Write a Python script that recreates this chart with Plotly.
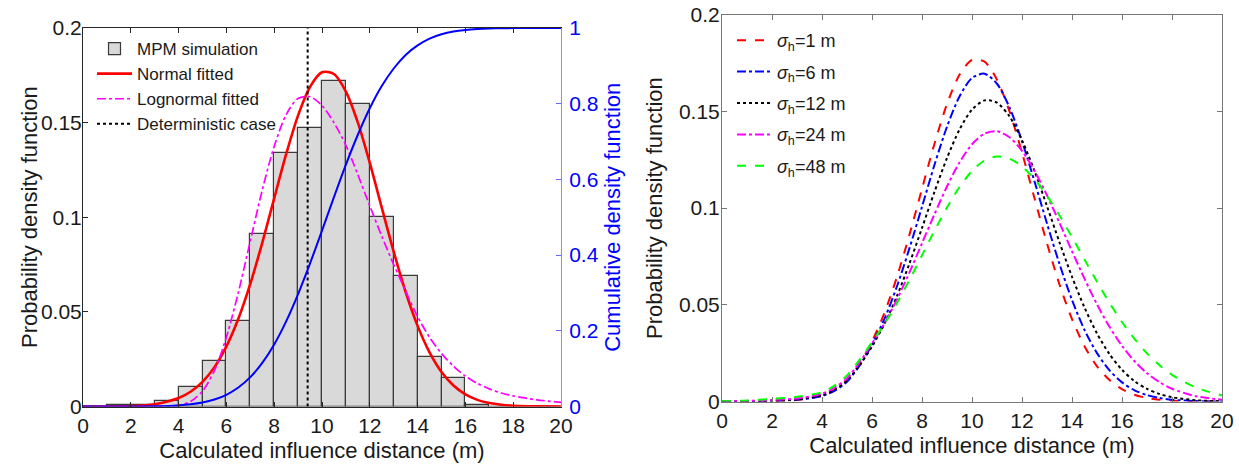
import plotly.graph_objects as go

# ---------------- data ----------------
bin_centers = [0.5, 1.5, 2.5, 3.5, 4.5, 5.5, 6.5, 7.5, 8.5, 9.5,
               10.5, 11.5, 12.5, 13.5, 14.5, 15.5, 16.5, 17.5, 18.5, 19.5]
mpm_density = [0.0, 0.001, 0.0008, 0.003, 0.0102, 0.024, 0.0451, 0.091, 0.134, 0.147,
               0.172, 0.160, 0.100, 0.069, 0.026, 0.0152, 0.001, 0.0, 0.0, 0.0]

x_grid = [0, 1, 2, 3, 4, 4.5, 5, 5.5, 6, 6.5, 7, 7.5, 8, 8.5, 9, 9.5, 10, 10.5, 11, 11.5,
          12, 12.5, 13, 13.5, 14, 14.5, 15, 15.5, 16, 16.5, 17, 17.5, 18, 19, 20]

normal_fitted = [0.0, 0.0, 0.0002, 0.0012, 0.0045, 0.0078, 0.0130, 0.0208, 0.0318, 0.0464,
                 0.0648, 0.0865, 0.1100, 0.1333, 0.1538, 0.1689, 0.1766, 0.1757, 0.1664, 0.1500,
                 0.1287, 0.1051, 0.0818, 0.0605, 0.0426, 0.0286, 0.0182, 0.0111, 0.0064, 0.0035,
                 0.0018, 0.0009, 0.0004, 0.0001, 0.0]

lognormal_fitted = [0.0, 0.0, 0.0, 0.0, 0.0006, 0.0027, 0.0081, 0.0190, 0.0366, 0.0603,
                    0.0874, 0.1144, 0.1375, 0.1542, 0.1628, 0.1637, 0.1590, 0.1500, 0.1380, 0.1225,
                    0.1060, 0.0900, 0.0750, 0.0610, 0.0475, 0.0365, 0.0280, 0.0213, 0.0160, 0.0122,
                    0.0093, 0.0071, 0.0056, 0.0035, 0.0022]

cdf_values = [0.0, 0.0, 0.0001, 0.0007, 0.0029, 0.0057, 0.0104, 0.0184, 0.0310, 0.0501,
              0.0775, 0.1151, 0.1640, 0.2249, 0.2970, 0.3780, 0.4646, 0.5530, 0.6390, 0.7180,
              0.7880, 0.8466, 0.8930, 0.9288, 0.9540, 0.9720, 0.9835, 0.9908, 0.9950, 0.9974,
              0.9987, 0.9994, 0.9997, 1.0, 1.0]

deterministic_x = 9.4

sigma_labels = ["1", "6", "12", "24", "48"]
pdf_sigma1 = [0.0, 0.0, 0.0002, 0.0008, 0.0030, 0.0060, 0.0110, 0.0195, 0.0311, 0.0459,
              0.0645, 0.0863, 0.1100, 0.1333, 0.1538, 0.1689, 0.1766, 0.1757, 0.1664, 0.1500,
              0.1287, 0.1051, 0.0818, 0.0605, 0.0426, 0.0286, 0.0182, 0.0111, 0.0064, 0.0035,
              0.0018, 0.0009, 0.0004, 0.0001, 0.0]
pdf_sigma6 = [0.0, 0.0001, 0.0003, 0.0009, 0.0028, 0.0055, 0.0102, 0.0185, 0.0294, 0.0428,
              0.0596, 0.0793, 0.1007, 0.1224, 0.1421, 0.1577, 0.1673, 0.1695, 0.1643, 0.1521,
              0.1346, 0.1138, 0.0920, 0.0711, 0.0525, 0.0370, 0.0250, 0.0161, 0.0099, 0.0058,
              0.0033, 0.0018, 0.0009, 0.0002, 0.0]
pdf_sigma12 = [0.0, 0.0001, 0.0004, 0.0011, 0.0032, 0.0061, 0.0108, 0.0187, 0.0284, 0.0402,
               0.0546, 0.0714, 0.0897, 0.1084, 0.1259, 0.1406, 0.1509, 0.1557, 0.1545, 0.1474,
               0.1351, 0.1192, 0.1010, 0.0823, 0.0645, 0.0486, 0.0352, 0.0245, 0.0164, 0.0105,
               0.0065, 0.0039, 0.0022, 0.0006, 0.0002]
pdf_sigma24 = [0.0001, 0.0003, 0.0008, 0.0016, 0.0040, 0.0071, 0.0120, 0.0202, 0.0300, 0.0404,
               0.0528, 0.0668, 0.0818, 0.0969, 0.1112, 0.1236, 0.1330, 0.1385, 0.1397, 0.1366,
               0.1296, 0.1193, 0.1066, 0.0924, 0.0777, 0.0635, 0.0502, 0.0386, 0.0288, 0.0208,
               0.0146, 0.0100, 0.0066, 0.0026, 0.0009]
pdf_sigma48 = [0.0001, 0.0005, 0.0014, 0.0024, 0.0048, 0.0082, 0.0135, 0.0215, 0.0307, 0.0401,
               0.0509, 0.0629, 0.0756, 0.0883, 0.1003, 0.1109, 0.1192, 0.1246, 0.1267, 0.1255,
               0.1216, 0.1150, 0.1064, 0.0962, 0.0850, 0.0734, 0.0619, 0.0510, 0.0411, 0.0324,
               0.0249, 0.0188, 0.0138, 0.0070, 0.0032]

# ---------------- figure ----------------
FONT = "Liberation Sans, Arial, Helvetica, sans-serif"
W, H = 1239, 466

fig = go.Figure()

# Left panel
fig.add_trace(go.Bar(x=bin_centers, y=mpm_density, width=1.0, name="MPM simulation",
                     marker=dict(color="#d9d9d9", line=dict(color="#3a3a3a", width=1.2)),
                     xaxis="x", yaxis="y", legend="legend"))
fig.add_trace(go.Scatter(x=x_grid, y=normal_fitted, mode="lines", name="Normal fitted",
                         line=dict(color="#ff0000", width=2.6, shape="spline", smoothing=0.8),
                         xaxis="x", yaxis="y", legend="legend"))
fig.add_trace(go.Scatter(x=x_grid, y=lognormal_fitted, mode="lines", name="Lognormal fitted",
                         line=dict(color="#ff00ff", width=1.7, dash="dashdot", shape="spline", smoothing=0.8),
                         xaxis="x", yaxis="y", legend="legend"))
fig.add_trace(go.Scatter(x=[deterministic_x, deterministic_x], y=[0, 0.2], mode="lines",
                         name="Deterministic case",
                         line=dict(color="#000000", width=2, dash="dot"),
                         xaxis="x", yaxis="y", legend="legend"))
fig.add_trace(go.Scatter(x=x_grid, y=cdf_values, mode="lines", showlegend=False,
                         line=dict(color="#0000ff", width=2, shape="spline", smoothing=0.8),
                         xaxis="x", yaxis="y2"))

# Right panel
styles = [("#ff0000", "dash"), ("#0000ff", "dashdot"), ("#000000", "dot"),
          ("#ff00ff", "dashdot"), ("#00ff00", "dash")]
for lab, ys, (col, dsh) in zip(sigma_labels,
                               [pdf_sigma1, pdf_sigma6, pdf_sigma12, pdf_sigma24, pdf_sigma48],
                               styles):
    fig.add_trace(go.Scatter(x=x_grid, y=ys, mode="lines",
                             name="<i>σ</i><sub>h</sub>=" + lab + " m", legendgroup="s" + lab,
                             line=dict(color=col, width=2, dash=dsh, shape="spline", smoothing=0.8),
                             xaxis="x3", yaxis="y3", legend="legend2"))

axcol = "#262626"
tickfont = dict(family=FONT, size=21, color="#1a1a1a")
titlefont = dict(family=FONT, size=22, color="#1a1a1a")

xl = dict(range=[0, 20], tickvals=list(range(0, 21, 2)), ticks="inside", ticklen=5,
          tickcolor=axcol, showline=True, linecolor=axcol, linewidth=1, mirror="ticks",
          showgrid=False, zeroline=False, tickfont=tickfont, automargin=False,
          title=dict(text="Calculated influence distance (m)", font=titlefont, standoff=6))

fig.update_layout(
    width=W, height=H,
    margin=dict(l=0, r=0, t=0, b=0, autoexpand=False),
    paper_bgcolor="white", plot_bgcolor="white",
    showlegend=True, bargap=0,
    font=dict(family=FONT),
    xaxis=dict(xl, domain=[83 / W, 561 / W], anchor="y"),
    yaxis=dict(domain=[1 - 406.5 / H, 1 - 28 / H], range=[0, 0.2], automargin=False,
               tickvals=[0, 0.05, 0.1, 0.15, 0.2], ticktext=["0", "0.05", "0.1", "0.15", "0.2"],
               ticks="inside", ticklen=5, tickcolor=axcol, showline=True, linecolor=axcol,
               linewidth=1, showgrid=False, zeroline=False, tickfont=tickfont,
               ticklabelstandoff=-4),
    yaxis2=dict(overlaying="y", side="right", anchor="x", range=[0, 1], automargin=False,
                tickvals=[0, 0.2, 0.4, 0.6, 0.8, 1], ticktext=["0", "0.2", "0.4", "0.6", "0.8", "1"],
                ticks="inside", ticklen=5, tickcolor="#6666ff", showline=True, linecolor="#8a8aff",
                linewidth=1, showgrid=False, zeroline=False, ticklabelstandoff=3,
                tickfont=dict(family=FONT, size=21, color="#0000ff"),
                title=dict(text="Cumulative density function",
                           font=dict(family=FONT, size=22, color="#0000ff"), standoff=6)),
    xaxis3=dict(xl, domain=[722 / W, 1222 / W], anchor="y3", linecolor="#777", tickcolor="#777"),
    yaxis3=dict(domain=[1 - 401.5 / H, 1 - 14.7 / H], range=[0, 0.2], anchor="x3", automargin=False,
                tickvals=[0, 0.05, 0.1, 0.15, 0.2], ticktext=["0", "0.05", "0.1", "0.15", "0.2"],
                ticks="inside", ticklen=5, tickcolor="#777", showline=True, linecolor="#777",
                linewidth=1, mirror="ticks", showgrid=False, zeroline=False, tickfont=tickfont,
                ticklabelstandoff=-3,
                title=dict(text="Probability density function", font=titlefont, standoff=10)),
    legend=dict(x=92 / W, y=1 - 31 / H, xanchor="left", yanchor="top",
                bgcolor="rgba(255,255,255,0)", borderwidth=0,
                font=dict(family=FONT, size=17, color="#1a1a1a"),
                itemwidth=35, tracegroupgap=0, traceorder="normal"),
    legend2=dict(x=732 / W, y=1 - 22 / H, xanchor="left", yanchor="top",
                 bgcolor="rgba(255,255,255,0)", borderwidth=0,
                 font=dict(family=FONT, size=18, color="#1a1a1a"),
                 itemwidth=35, tracegroupgap=5, traceorder="grouped"),
    annotations=[dict(text="Probability density function", xref="paper", yref="paper",
                      x=29 / W, y=1 - 217 / H, xanchor="center", yanchor="middle",
                      textangle=-90, showarrow=False, font=titlefont)],
)

fig.write_html("out.html")
